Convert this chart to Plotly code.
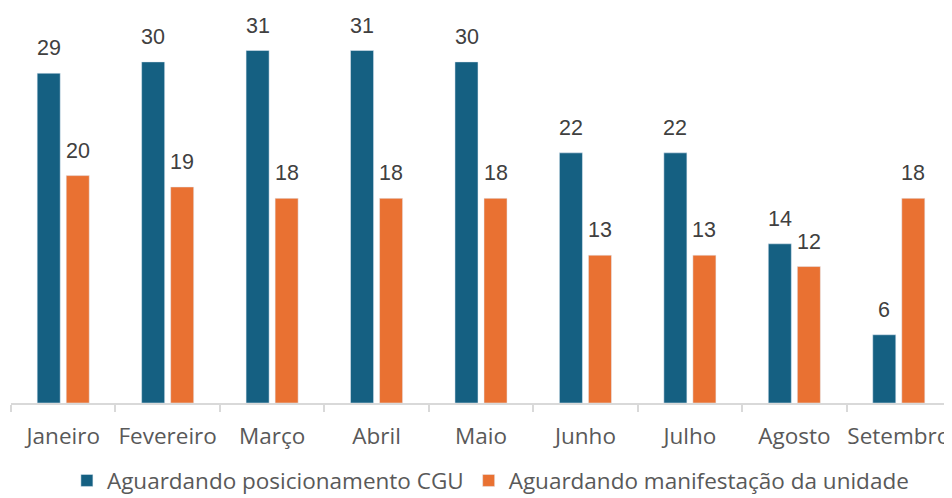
import plotly.graph_objects as go

meses = ["Janeiro", "Fevereiro", "Março", "Abril", "Maio", "Junho", "Julho", "Agosto", "Setembro"]
posicionamento_cgu = [29, 30, 31, 31, 30, 22, 22, 14, 6]
manifestacao_unidade = [20, 19, 18, 18, 18, 13, 13, 12, 18]
serie_nomes = ["Aguardando posicionamento CGU", "Aguardando manifestação da unidade"]
cores = ["#156082", "#E97132"]

fig = go.Figure()
fig.add_trace(go.Bar(x=meses, y=posicionamento_cgu, name=serie_nomes[0],
                     marker_color=cores[0], hoverinfo="x+y"))
fig.add_trace(go.Bar(x=meses, y=manifestacao_unidade, name=serie_nomes[1],
                     marker_color=cores[1], hoverinfo="x+y"))

annotations = []
for serie, shift in ((posicionamento_cgu, -14.5), (manifestacao_unidade, 14.5)):
    for m, v in zip(meses, serie):
        annotations.append(dict(x=m, y=v, text=str(v), showarrow=False,
                                xref="x", yref="y", xshift=shift, yshift=25,
                                yanchor="middle", xanchor="center",
                                font=dict(family="Liberation Sans", size=21.5, color="#404040")))

fig.update_layout(
    width=952, height=498,
    margin=dict(l=3, r=9, t=0, b=103, autoexpand=False),
    paper_bgcolor="white", plot_bgcolor="white",
    barmode="group", bargap=0.444, bargroupgap=0.207,
    showlegend=True,
    legend=dict(orientation="h", x=0.51, xanchor="center", y=-0.197, yanchor="middle",
                font=dict(family="Open Sans", size=22.5, color="#595959"),
                itemclick=False, itemdoubleclick=False, traceorder="normal"),
    annotations=annotations,
    xaxis=dict(showline=True, linecolor="#D9D9D9", linewidth=2, automargin=False,
               ticks="outside", tickson="boundaries", ticklen=7, tickcolor="#D9D9D9", tickwidth=2,
               tickangle=0,
               tickfont=dict(family="Open Sans", size=22.5, color="#595959"),
               ticklabelstandoff=12, showgrid=False, fixedrange=True),
    yaxis=dict(visible=False, range=[0, 34.74], showgrid=False, zeroline=False, fixedrange=True),
)

fig.write_html("out.html")
